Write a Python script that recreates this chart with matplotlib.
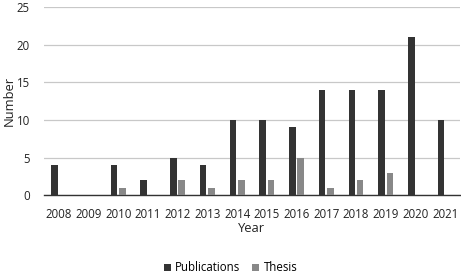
import numpy as np
import matplotlib.pyplot as plt

years = ['2008', '2009', '2010', '2011', '2012', '2013', '2014',
         '2015', '2016', '2017', '2018', '2019', '2020', '2021']
publications = [4, 0, 4, 2, 5, 4, 10, 10, 9, 14, 14, 14, 21, 10]
thesis = [0, 0, 1, 0, 2, 1, 2, 2, 5, 1, 2, 3, 0, 0]

plt.rcParams['font.family'] = ['Open Sans', 'DejaVu Sans']

fig = plt.figure(figsize=(4.61, 2.75), dpi=100)
ax = fig.add_axes([0.095, 0.29, 0.903, 0.685])

x = np.arange(len(years))
w = 0.22
ax.bar(x - w / 2 - 0.03, publications, w, color='#333333', label='Publications', zorder=3)
ax.bar(x + w / 2 + 0.03, thesis, w, color='#888888', label='Thesis', zorder=3)

ax.set_xlim(-0.5, len(years) - 0.5)
ax.set_ylim(0, 25)
ax.set_yticks(range(0, 26, 5))
ax.set_xticks(x)
ax.set_xticklabels(years)
ax.grid(axis='y', color='#c8c8c8', linewidth=0.9, zorder=0)
for s in ['top', 'right', 'left']:
    ax.spines[s].set_visible(False)
ax.spines['bottom'].set_color('#333333')
ax.spines['bottom'].set_linewidth(1.0)
ax.tick_params(axis='x', length=0, labelsize=8.3, colors='#222222', pad=9)
ax.tick_params(axis='y', length=0, labelsize=8.3, colors='#222222', pad=10)
ax.set_xlabel('Year', fontsize=9.3, color='#222222', labelpad=1)
ax.set_ylabel('Number', fontsize=9.3, color='#222222', labelpad=1)

fig.legend(loc='lower center', bbox_to_anchor=(0.5, -0.035), ncol=2, frameon=False,
           fontsize=8.3, handlelength=0.6, handleheight=0.6, handletextpad=0.4,
           columnspacing=1.0)

fig.savefig('out.png', dpi=100)
